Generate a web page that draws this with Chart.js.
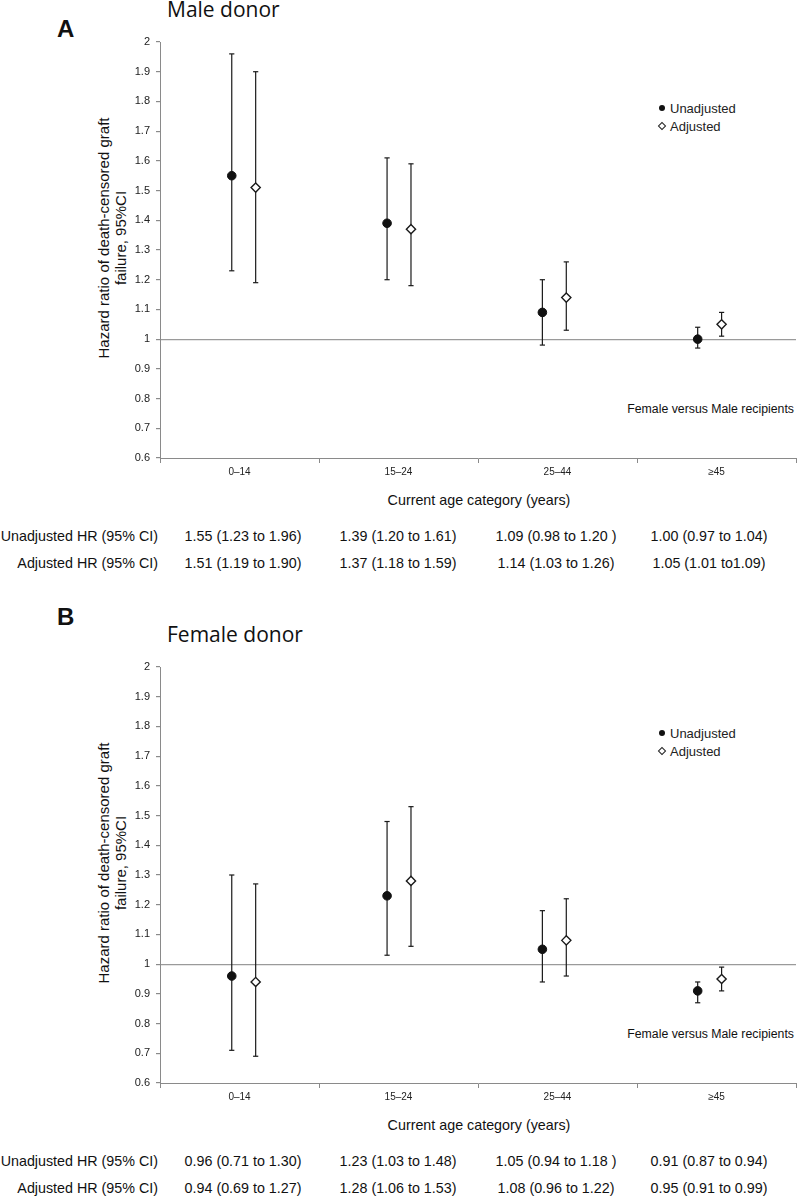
<!DOCTYPE html>
<html>
<head>
<meta charset="utf-8">
<script src="https://cdn.jsdelivr.net/npm/chart.js@4/dist/chart.umd.min.js"></script>
<style>
  html, body { margin: 0; padding: 0; background: #fff; }
  body { width: 802px; height: 1197px; position: relative; overflow: hidden;
         font-family: 'Liberation Sans', Arial, sans-serif; color: #111; }
  .abs { position: absolute; white-space: nowrap; line-height: 1; }
  canvas { position: absolute; left: 0; }
  .yt { position: absolute; transform: translate(-50%, -50%) rotate(-90deg);
        font-size: 15px; line-height: 17px; text-align: center; white-space: nowrap; color: #111; }
  .dot { position: absolute; width: 6px; height: 6px; border-radius: 50%; background: #111;
         transform: translate(-50%, -50%); }
  .dia { position: absolute; width: 4px; height: 4px; border: 1.3px solid #222; background: #fff;
         transform: translate(-50%, -50%) rotate(45deg); }
</style>
</head>
<body>
<div id="root"></div>
<canvas id="chartA" width="802" height="480" style="top:0px;width:802px;height:480px"></canvas>
<canvas id="chartB" width="802" height="480" style="top:625px;width:802px;height:480px"></canvas>
<script>
// ---------------- DATA ----------------
const categories = ['0–14', '15–24', '25–44', '≥45'];
const yTickLabels = ['0.6', '0.7', '0.8', '0.9', '1', '1.1', '1.2', '1.3', '1.4', '1.5', '1.6', '1.7', '1.8', '1.9', '2'];
const seriesNames = ['Unadjusted', 'Adjusted'];
const rowLabels = ['Unadjusted HR (95% CI)', 'Adjusted HR (95% CI)'];

const panelTitles = ['Male donor', 'Female donor'];
const panelLetters = ['A', 'B'];
const yAxisTitle = ['Hazard ratio of death-censored graft', 'failure, 95%CI'];
const xAxisTitle = 'Current age category (years)';
const comparisonNote = 'Female versus Male recipients';

// Male donor
const maleUnadjHR = [1.55, 1.39, 1.09, 1.00];
const maleUnadjLo = [1.23, 1.20, 0.98, 0.97];
const maleUnadjHi = [1.96, 1.61, 1.20, 1.04];
const maleAdjHR = [1.51, 1.37, 1.14, 1.05];
const maleAdjLo = [1.19, 1.18, 1.03, 1.01];
const maleAdjHi = [1.90, 1.59, 1.26, 1.09];
const maleUnadjText = ['1.55 (1.23 to 1.96)', '1.39 (1.20 to 1.61)', '1.09 (0.98 to 1.20 )', '1.00 (0.97 to 1.04)'];
const maleAdjText = ['1.51 (1.19 to 1.90)', '1.37 (1.18 to 1.59)', '1.14 (1.03 to 1.26)', '1.05 (1.01 to1.09)'];

// Female donor
const femaleUnadjHR = [0.96, 1.23, 1.05, 0.91];
const femaleUnadjLo = [0.71, 1.03, 0.94, 0.87];
const femaleUnadjHi = [1.30, 1.48, 1.18, 0.94];
const femaleAdjHR = [0.94, 1.28, 1.08, 0.95];
const femaleAdjLo = [0.69, 1.06, 0.96, 0.91];
const femaleAdjHi = [1.27, 1.53, 1.22, 0.99];
const femaleUnadjText = ['0.96 (0.71 to 1.30)', '1.23 (1.03 to 1.48)', '1.05 (0.94 to 1.18 )', '0.91 (0.87 to 0.94)'];
const femaleAdjText = ['0.94 (0.69 to 1.27)', '1.28 (1.06 to 1.53)', '1.08 (0.96 to 1.22)', '0.95 (0.91 to 0.99)'];

// ---------------- LAYOUT / STYLE ----------------
Chart.defaults.font.family = "'Liberation Sans', Arial, sans-serif";
const PLOT_LEFT = 160, PLOT_RIGHT = 798, PLOT_TOP = 42, PLOT_BOTTOM = 458, CANVAS_H = 480;
const PANEL_SHIFT = 625;
const OFFSET = 0.077;           // horizontal offset of the two series within a category
const AXIS_GREY = '#8a8a8a';

function makeChart(canvasId, uHR, uLo, uHi, aHR, aLo, aHi) {
  const pt = (hr, off) => hr.map((v, i) => ({ x: i + off, y: v }));
  const bars = (lo, hi, off) => categories.flatMap((c, i) => [
    { x: i + off, y: lo[i] }, { x: i + off, y: hi[i] }, { x: i + off, y: null }
  ]);
  const errStyle = {
    type: 'line', xAxisID: 'x2', showLine: true, spanGaps: false,
    borderColor: '#1a1a1a', borderWidth: 1.2, pointStyle: 'line', pointRadius: 2.6,
    pointBorderWidth: 1.2, pointBorderColor: '#1a1a1a', order: 2
  };
  return new Chart(document.getElementById(canvasId), {
    type: 'scatter',
    data: {
      datasets: [
        { label: seriesNames[0], data: pt(uHR, -OFFSET), xAxisID: 'x2', pointStyle: 'circle',
          pointRadius: 4.3, backgroundColor: '#111', borderColor: '#111', borderWidth: 1, order: 0 },
        { label: seriesNames[1], data: pt(aHR, OFFSET), xAxisID: 'x2', pointStyle: 'rectRot',
          pointRadius: 4.6, backgroundColor: '#fff', borderColor: '#1a1a1a', borderWidth: 1.4, order: 0 },
        Object.assign({ label: seriesNames[0] + ' CI', data: bars(uLo, uHi, -OFFSET) }, errStyle),
        Object.assign({ label: seriesNames[1] + ' CI', data: bars(aLo, aHi, OFFSET) }, errStyle)
      ]
    },
    options: {
      responsive: false, animation: false, events: [],
      layout: { padding: { top: PLOT_TOP, right: 802 - PLOT_RIGHT, left: 0, bottom: 0 } },
      plugins: { legend: { display: false }, tooltip: { enabled: false } },
      scales: {
        x: {
          type: 'category', labels: categories, offset: true, position: 'bottom',
          border: { color: AXIS_GREY, width: 1 },
          grid: { offset: true, drawOnChartArea: false, drawTicks: true, tickLength: 5,
                  tickColor: AXIS_GREY, color: AXIS_GREY },
          ticks: { color: '#222', font: { size: 10 }, padding: 3, maxRotation: 0 },
          afterFit: s => { s.height = CANVAS_H - PLOT_BOTTOM; }
        },
        x2: { type: 'linear', display: false, min: -0.539, max: 3.556 },
        y: {
          type: 'linear', min: 0.6, max: 2,
          border: { color: AXIS_GREY, width: 1 },
          grid: {
            drawOnChartArea: true, drawTicks: true, tickLength: 4, tickColor: AXIS_GREY,
            color: ctx => (ctx.tick && Math.abs(ctx.tick.value - 1) < 1e-6) ? '#9a9a9a' : 'rgba(0,0,0,0)',
            lineWidth: 1.2
          },
          ticks: { stepSize: 0.1, autoSkip: false, color: '#222', font: { size: 11 }, padding: 6,
                   callback: (v, i) => yTickLabels[i] },
          afterFit: s => { s.width = PLOT_LEFT; }
        }
      }
    }
  });
}

makeChart('chartA', maleUnadjHR, maleUnadjLo, maleUnadjHi, maleAdjHR, maleAdjLo, maleAdjHi);
makeChart('chartB', femaleUnadjHR, femaleUnadjLo, femaleUnadjHi, femaleAdjHR, femaleAdjLo, femaleAdjHi);

// ---------------- TEXT ----------------
const root = document.getElementById('root');
function addText(txt, opts) {
  const d = document.createElement('div');
  d.className = 'abs';
  d.textContent = txt;
  Object.assign(d.style, opts);
  root.appendChild(d);
  return d;
}
function centered(txt, cx, cy, size, extra) {
  return addText(txt, Object.assign({ left: cx + 'px', top: cy + 'px', fontSize: size + 'px',
    transform: 'translate(-50%,-50%)' }, extra || {}));
}

const valueCentersX = [243, 398, 556, 709];
const tables = [[maleUnadjText, maleAdjText], [femaleUnadjText, femaleAdjText]];
const letterY = [29, 617];

for (let p = 0; p < 2; p++) {
  const dy = p * PANEL_SHIFT;
  // panel letter
  addText(panelLetters[p], { left: '57px', top: (letterY[p] - 12) + 'px', fontSize: '24px', fontWeight: 'bold' });
  // panel title
  addText(panelTitles[p], { left: '167px', top: (dy + 18 - 0.888 * 21) + 'px', fontSize: '21px',
    fontFamily: "'Open Sans', sans-serif", color: '#111' });
  // y axis title
  const yt = document.createElement('div');
  yt.className = 'yt';
  yt.style.left = '112px';
  yt.style.top = (dy + 238) + 'px';
  yt.innerHTML = yAxisTitle[0] + '<br>' + yAxisTitle[1];
  root.appendChild(yt);
  // legend
  const dot = document.createElement('div'); dot.className = 'dot';
  dot.style.left = '662px'; dot.style.top = (dy + 108) + 'px'; root.appendChild(dot);
  const dia = document.createElement('div'); dia.className = 'dia';
  dia.style.left = '662px'; dia.style.top = (dy + 126) + 'px'; root.appendChild(dia);
  addText(seriesNames[0], { left: '670px', top: (dy + 108 - 6.5) + 'px', fontSize: '13px', color: '#222' });
  addText(seriesNames[1], { left: '670px', top: (dy + 126 - 6.5) + 'px', fontSize: '13px', color: '#222' });
  // comparison note
  addText(comparisonNote, { right: (802 - 794) + 'px', top: (dy + 409 - 6.2) + 'px', fontSize: '12.3px', color: '#111' });
  // x axis title
  centered(xAxisTitle, 479, dy + 500, 14.3);
  // table rows
  const rowsY = [536, 563];
  for (let r = 0; r < 2; r++) {
    addText(rowLabels[r], { left: '0px', width: '158px', textAlign: 'right', top: (dy + rowsY[r] - 7.2) + 'px', fontSize: '14.3px' });
    tables[p][r].forEach((t, i) => centered(t, valueCentersX[i], dy + rowsY[r], 14.3));
  }
}
</script>
</body>
</html>
